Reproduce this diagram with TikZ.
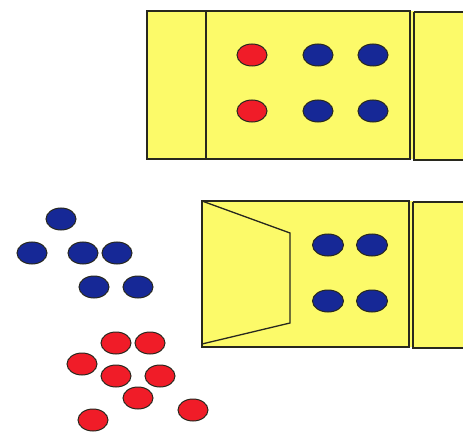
\documentclass[tikz,border=0pt]{standalone}
\definecolor{boxyellow}{RGB}{252,250,105}
\definecolor{chipred}{RGB}{240,28,40}
\definecolor{chipblue}{RGB}{22,40,150}
\definecolor{edge}{RGB}{40,40,30}
\begin{document}
\begin{tikzpicture}[x=1pt,y=-1pt,
  panel/.style={draw=edge,fill=boxyellow,line width=1.3pt},
  redchip/.style={ellipse chip,fill=chipred},
  bluechip/.style={ellipse chip,fill=chipblue},
  ellipse chip/.style={draw=edge,line width=1pt}]
\useasboundingbox (0,0) rectangle (463,433);
% top strip
\fill[boxyellow] (147,11) rectangle (463,159);
\draw[panel] (147,11) rectangle (410,159);
\draw[edge,line width=1.3pt] (206,11) -- (206,159);
\draw[panel] (414,12) -- (463,12) (414,12) -- (414,160) -- (463,160);
% top chips
\foreach \x/\c in {252/redchip,318/bluechip,373/bluechip}
  \foreach \y in {55,111}
    \path[\c] (\x,\y) ellipse (15 and 11);
% bottom strip
\fill[boxyellow] (202,201) rectangle (463,347);
\draw[panel] (202,201) rectangle (409,347);
\draw[panel] (413,202) -- (463,202) (413,202) -- (413,348) -- (463,348);
\draw[edge,line width=1.3pt] (202,201) -- (290,233) -- (290,323) -- (202,344);
\foreach \x in {328,372}
  \foreach \y in {245,301}
    \path[bluechip] (\x,\y) ellipse (15.5 and 11);
% loose blue chips
\foreach \x/\y in {61/219,32/253,83/253,117/253,94/287,138/287}
  \path[bluechip] (\x,\y) ellipse (15 and 11);
% loose red chips
\foreach \x/\y in {116/343,150/343,82/364,116/376,160/376,138/398,193/410,93/420}
  \path[redchip] (\x,\y) ellipse (15 and 11);
\end{tikzpicture}
\end{document}
